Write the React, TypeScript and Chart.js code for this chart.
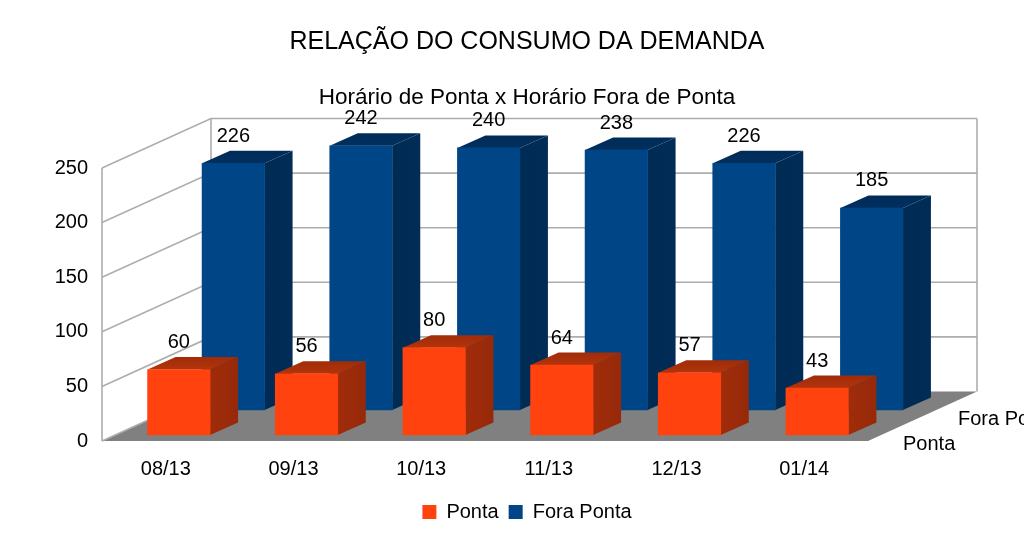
import React, { useEffect, useRef } from "react";
import { Chart, registerables } from "chart.js";

Chart.register(...registerables);

const categories = ["08/13", "09/13", "10/13", "11/13", "12/13", "01/14"];
const ponta = [60, 56, 80, 64, 57, 43];
const foraPonta = [226, 242, 240, 238, 226, 185];
const seriesNames = ["Ponta", "Fora Ponta"];
const titleText = "RELAÇÃO DO CONSUMO DA DEMANDA";
const subtitleText = "Horário de Ponta x Horário Fora de Ponta";

const FONT = "'Liberation Sans', Arial, sans-serif";
const WALL_DX = 109;
const WALL_DY = -49.5;
const BAR_DX = 28;
const BAR_DY = -12.5;
const seriesOffset = [
  { dx: 13, dy: -6 },
  { dx: 67.5, dy: -31 },
];
const faceColors = [
  { top: ["#a02c09", "#b2340b"], side: ["#a02c09", "#96290a"] },
  { top: ["#002b57", "#003060"], side: ["#002b53", "#002c57"] },
];

const plugin3d = {
  id: "plugin3d",
  beforeDatasetsDraw(chart: any) {
    const { ctx, chartArea: a, scales } = chart;
    const y = scales.y;
    ctx.save();
    ctx.fillStyle = "#808080";
    ctx.beginPath();
    ctx.moveTo(a.left, a.bottom);
    ctx.lineTo(a.left + WALL_DX, a.bottom + WALL_DY);
    ctx.lineTo(a.right + WALL_DX, a.bottom + WALL_DY);
    ctx.lineTo(a.right, a.bottom);
    ctx.closePath();
    ctx.fill();
    ctx.strokeStyle = "#adadad";
    ctx.lineWidth = 1.6;
    y.ticks.forEach((t: any) => {
      const py = y.getPixelForValue(t.value);
      ctx.beginPath();
      ctx.moveTo(a.left, py);
      ctx.lineTo(a.left + WALL_DX, py + WALL_DY);
      if (t.value !== 0) ctx.lineTo(a.right + WALL_DX, py + WALL_DY);
      ctx.stroke();
    });
    ctx.beginPath();
    ctx.moveTo(a.left, a.top);
    ctx.lineTo(a.left, a.bottom);
    ctx.moveTo(a.left + WALL_DX, a.top + WALL_DY);
    ctx.lineTo(a.left + WALL_DX, a.bottom + WALL_DY);
    ctx.moveTo(a.right + WALL_DX, a.top + WALL_DY);
    ctx.lineTo(a.right + WALL_DX, a.bottom + WALL_DY);
    ctx.stroke();
    ctx.restore();

    ctx.save();
    ctx.fillStyle = "#000";
    ctx.font = `20px ${FONT}`;
    ctx.textBaseline = "middle";
    ctx.textAlign = "left";
    ctx.fillText(seriesNames[0], a.right + 35, a.bottom + 3);
    ctx.fillText(seriesNames[1], a.right + 90, a.bottom - 22);
    ctx.restore();
  },
  beforeDatasetDraw(chart: any, args: any) {
    const { ctx } = chart;
    const off = seriesOffset[args.index];
    const col = faceColors[args.index];
    ctx.save();
    ctx.translate(off.dx, off.dy);
    args.meta.data.forEach((bar: any) => {
      const { x, y, base, width } = bar.getProps(["x", "y", "base", "width"], true);
      const l = x - width / 2;
      const r = x + width / 2;
      const sg = ctx.createLinearGradient(r, 0, r + BAR_DX, 0);
      sg.addColorStop(0, col.side[0]);
      sg.addColorStop(1, col.side[1]);
      ctx.fillStyle = sg;
      ctx.beginPath();
      ctx.moveTo(r, y);
      ctx.lineTo(r + BAR_DX, y + BAR_DY);
      ctx.lineTo(r + BAR_DX, base + BAR_DY);
      ctx.lineTo(r, base);
      ctx.closePath();
      ctx.fill();
      const tg = ctx.createLinearGradient(0, y + BAR_DY, 0, y);
      tg.addColorStop(0, col.top[0]);
      tg.addColorStop(1, col.top[1]);
      ctx.fillStyle = tg;
      ctx.beginPath();
      ctx.moveTo(l, y);
      ctx.lineTo(l + BAR_DX, y + BAR_DY);
      ctx.lineTo(r + BAR_DX, y + BAR_DY);
      ctx.lineTo(r, y);
      ctx.closePath();
      ctx.fill();
    });
  },
  afterDatasetDraw(chart: any) {
    chart.ctx.restore();
  },
  afterDatasetsDraw(chart: any) {
    const { ctx } = chart;
    ctx.save();
    ctx.fillStyle = "#000";
    ctx.font = `20px ${FONT}`;
    ctx.textAlign = "center";
    ctx.textBaseline = "middle";
    [1, 0].forEach((di) => {
      const off = seriesOffset[di];
      const meta = chart.getDatasetMeta(di);
      meta.data.forEach((bar: any, i: number) => {
        ctx.fillText(String(chart.data.datasets[di].data[i]), bar.x + off.dx, bar.y + off.dy - 27);
      });
    });
    ctx.restore();
  },
};

export default function App() {
  const ref = useRef<HTMLCanvasElement>(null);
  useEffect(() => {
    const chart = new Chart(ref.current as HTMLCanvasElement, {
      type: "bar",
      data: {
        labels: categories,
        datasets: [
          { label: seriesNames[0], data: ponta, backgroundColor: "#ff420e", borderWidth: 0, barThickness: 62.5, grouped: false, clip: false },
          { label: seriesNames[1], data: foraPonta, backgroundColor: "#004586", borderWidth: 0, barThickness: 62.5, grouped: false, clip: false },
        ] as any,
      },
      plugins: [plugin3d],
      options: {
        responsive: false,
        animation: false,
        devicePixelRatio: 1,
        events: [],
        layout: { padding: { left: 30, right: 0, top: 0, bottom: 9 } },
        scales: {
          x: {
            grid: { display: false, drawTicks: false },
            border: { display: false },
            ticks: { color: "#000", font: { family: FONT, size: 20 }, padding: 16, maxRotation: 0 },
            afterFit(s: any) { s.height = 51; },
          },
          y: {
            min: 0,
            max: 250,
            grid: { display: false, drawTicks: false },
            border: { display: false },
            ticks: { stepSize: 50, color: "#000", font: { family: FONT, size: 20 }, padding: 14 },
            afterFit(s: any) { s.width = 72; },
          },
          y2: {
            position: "right",
            min: 0,
            max: 1,
            grid: { display: false, drawTicks: false },
            border: { display: false },
            ticks: { display: false },
            afterFit(s: any) { s.width = 156; },
          },
        },
        plugins: {
          tooltip: { enabled: false },
          title: {
            display: true,
            text: titleText,
            color: "#000",
            font: { family: FONT, size: 25, weight: "normal", lineHeight: 1.2 },
            padding: { top: 27, bottom: 27 },
          },
          subtitle: {
            display: true,
            text: subtitleText,
            color: "#000",
            font: { family: FONT, size: 22.5, weight: "normal", lineHeight: 1.2 },
            padding: { top: 0, bottom: 57 },
          },
          legend: {
            position: "bottom",
            labels: {
              color: "#000",
              boxWidth: 14,
              boxHeight: 14,
              padding: 10,
              font: { family: FONT, size: 20 },
            },
          },
        },
      },
    } as any);
    return () => chart.destroy();
  }, []);
  return (
    <div style={{ position: "fixed", left: 0, top: 0, width: 1024, height: 541, background: "#fff", overflow: "hidden" }}>
      <canvas ref={ref} width={1024} height={541} style={{ display: "block" }} />
    </div>
  );
}
